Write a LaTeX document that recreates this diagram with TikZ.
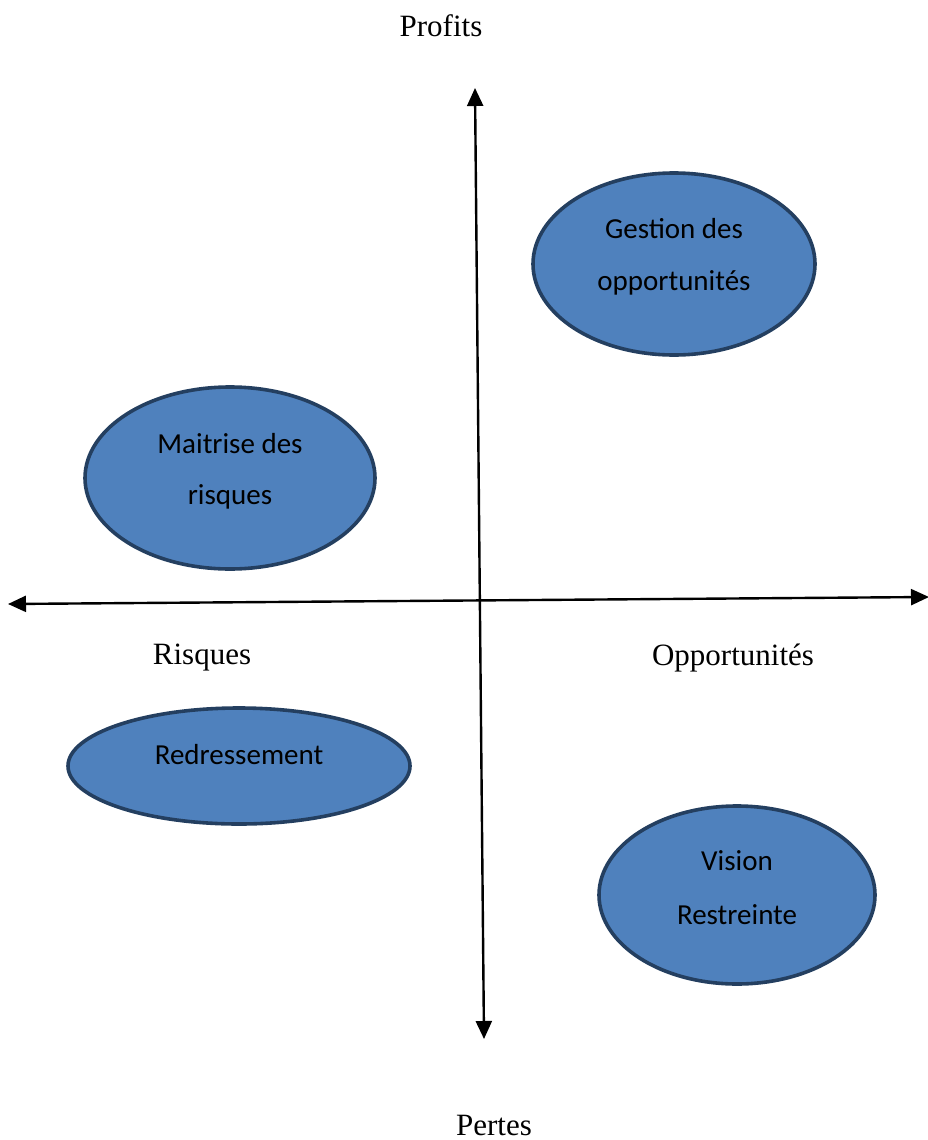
\documentclass[tikz,border=0pt]{standalone}
\usepackage{fontspec}
\setmainfont{Liberation Serif}
\newfontfamily\carl{Carlito}
\usetikzlibrary{arrows.meta,shapes.geometric}
\definecolor{efill}{HTML}{4F81BD}
\definecolor{edraw}{HTML}{243F60}
\begin{document}
\begin{tikzpicture}[x=1pt,y=-1pt,
  oval/.style={ellipse,draw=edraw,fill=efill,line width=3.6pt,inner sep=0pt},
  intext/.style={font=\carl\fontsize{29}{34}\selectfont,text=black,inner sep=0pt},
  axlabel/.style={font=\fontsize{31}{36}\selectfont,inner sep=0pt},
  axis/.style={line width=2.4pt,{Triangle[length=18pt,width=16pt]}-{Triangle[length=18pt,width=16pt]}}]
\useasboundingbox (0,0) rectangle (927,1140);
% axes
\coordinate (top) at (475,88);
\coordinate (bot) at (484,1039);
\coordinate (lft) at (8,604);
\coordinate (rgt) at (929,597);
\draw[axis] (bot) -- (top);
\draw[axis] (lft) -- (rgt);
% ellipses
\node[oval,minimum width=282pt,minimum height=182pt] (ges) at (674,264) {};
\node[oval,minimum width=290pt,minimum height=182pt] (mai) at (230,478) {};
\node[oval,minimum width=342pt,minimum height=116pt] (red) at (239,766) {};
\node[oval,minimum width=276pt,minimum height=178pt] (vis) at (737,895) {};
% ellipse texts
\node[intext] (ges1) at (674,229) {Gestion des};
\node[intext] (ges2) at (674,283) {opportunités};
\node[intext] (mai1) at (230,444) {Maitrise des};
\node[intext] (mai2) at (230,497) {risques};
\node[intext] (red1) at (239,755) {Redressement};
\node[intext] (vis1) at (737,861) {Vision};
\node[intext] (vis2) at (737,915) {Restreinte};
% axis labels
\node[axlabel] (profits) at (441,26) {Profits};
\node[axlabel] (risques) at (202,658) {Risques};
\node[axlabel] (opp) at (733,658) {Opportunités};
\node[axlabel] (pertes) at (494,1125) {Pertes};
\end{tikzpicture}
\end{document}
